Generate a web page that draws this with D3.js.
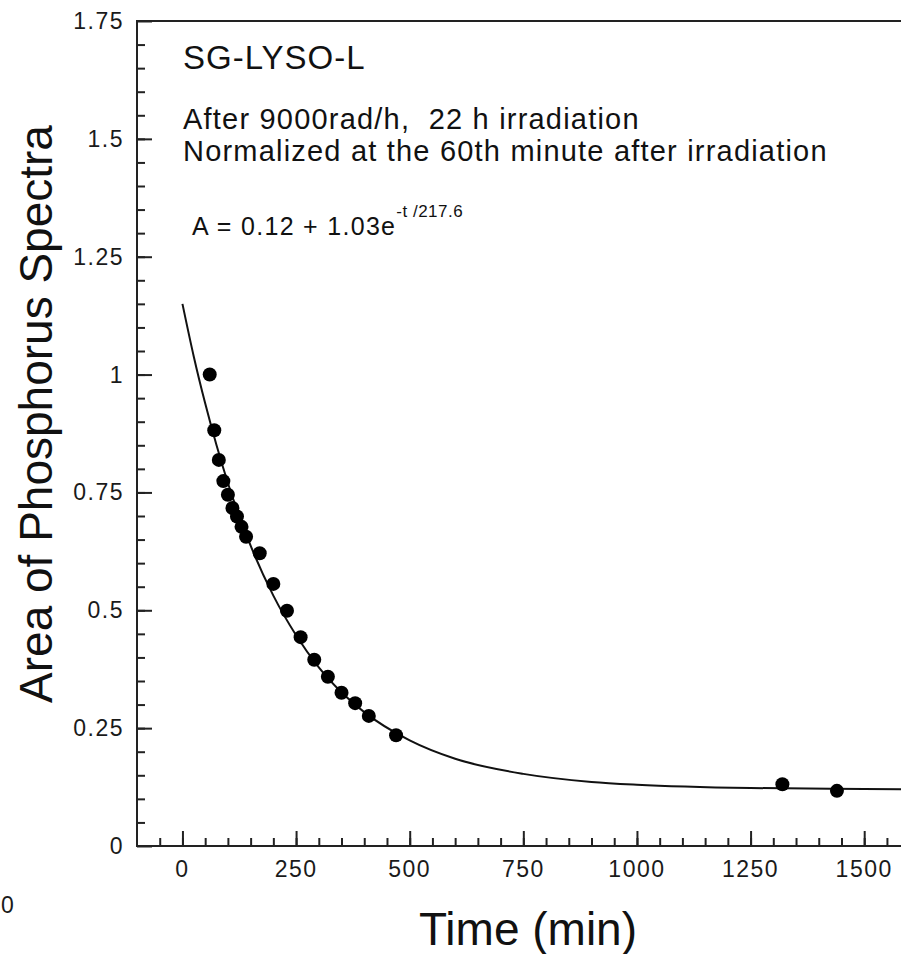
<!DOCTYPE html>
<html>
<head>
<meta charset="utf-8">
<script src="https://cdn.jsdelivr.net/npm/d3@7"></script>
<style>
  body { margin: 0; background: #fff; }
  svg { display: block; font-family: "Liberation Sans", Arial, Helvetica, sans-serif; }
</style>
</head>
<body>
<div id="chart"></div>
<script>
// measured points (time in min, normalized area)
const times = [60, 70, 80, 90, 100, 110, 120, 130, 140, 170, 200, 230, 260, 290, 320, 350, 380, 410, 470, 1320, 1440];
const areas = [1.0, 0.882, 0.819, 0.774, 0.745, 0.717, 0.699, 0.677, 0.656, 0.621, 0.556, 0.499, 0.443, 0.395, 0.359, 0.325, 0.303, 0.276, 0.235, 0.131, 0.117];

// fit curve
const fitTimes = [0, 25, 50, 75, 100, 150, 200, 250, 300, 350, 400, 500, 600, 750, 900, 1000, 1250, 1500, 1650];
const fitAreas = [1.150, 1.038, 0.939, 0.850, 0.770, 0.637, 0.531, 0.447, 0.379, 0.326, 0.284, 0.224, 0.185, 0.153, 0.136, 0.130, 0.123, 0.121, 0.120];

const xTicks = [0, 250, 500, 750, 1000, 1250, 1500];
const yTicks = [0, 0.25, 0.5, 0.75, 1, 1.25, 1.5, 1.75];
const yTickLabels = ['0', '0.25', '0.5', '0.75', '1', '1.25', '1.5', '1.75'];

function drawChart() {
  const width = 901;
  const height = 954;
  const margin = { top: 21, left: 137, bottom: 108 };

  const svg = d3.select('#chart')
    .append('svg')
    .attr('width', width)
    .attr('height', height);

  const x = d3.scaleLinear()
    .domain([-100, 1600])
    .range([margin.left, margin.left + 1700 * 0.4545]);

  const y = d3.scaleLinear()
    .domain([0, 1.75])
    .range([height - margin.bottom, margin.top]);

  svg.append('clipPath')
    .attr('id', 'plot')
    .append('rect')
    .attr('x', x(-100))
    .attr('y', y(1.75))
    .attr('width', x(1600) - x(-100))
    .attr('height', y(0) - y(1.75));

  // fit curve
  const line = d3.line()
    .x((d, i) => x(fitTimes[i]))
    .y(d => y(d))
    .curve(d3.curveMonotoneX);

  svg.append('path')
    .datum(fitAreas)
    .attr('clip-path', 'url(#plot)')
    .attr('fill', 'none')
    .attr('stroke', '#111')
    .attr('stroke-width', 2)
    .attr('d', line);

  // data points
  svg.append('g')
    .selectAll('circle')
    .data(areas)
    .join('circle')
    .attr('cx', (d, i) => x(times[i]))
    .attr('cy', d => y(d))
    .attr('r', 7)
    .attr('fill', '#000');

  // x axis, ticks point inward
  svg.append('g')
    .attr('transform', `translate(0,${y(0)})`)
    .call(d3.axisTop(x).tickValues(d3.range(-50, 1600, 50)).tickSize(8).tickFormat(''))
    .call(g => g.select('.domain').remove());
  svg.append('g')
    .attr('transform', `translate(0,${y(0)})`)
    .call(d3.axisTop(x).tickValues(xTicks).tickSize(15).tickFormat(''))
    .call(g => g.select('.domain').remove());

  svg.append('g')
    .selectAll('text')
    .data(xTicks)
    .join('text')
    .attr('x', d => x(d))
    .attr('y', y(0) + 31)
    .attr('text-anchor', 'middle')
    .style('font-size', '23px')
    .style('letter-spacing', '1.5px')
    .attr('fill', '#1a1a1a')
    .text(d => d);

  // y axis, ticks point inward
  svg.append('g')
    .attr('transform', `translate(${x(-100)},0)`)
    .call(d3.axisRight(y).tickValues(d3.range(0.05, 1.75, 0.05)).tickSize(8).tickFormat(''))
    .call(g => g.select('.domain').remove());
  svg.append('g')
    .attr('transform', `translate(${x(-100)},0)`)
    .call(d3.axisRight(y).tickValues(yTicks).tickSize(15).tickFormat(''))
    .call(g => g.select('.domain').remove());

  svg.selectAll('.tick line').attr('stroke', '#222').attr('stroke-width', 2);

  svg.append('g')
    .selectAll('text')
    .data(yTicks)
    .join('text')
    .attr('x', x(-100) - 13)
    .attr('y', d => y(d) + 8)
    .attr('text-anchor', 'end')
    .style('font-size', '23px')
    .style('letter-spacing', '1.5px')
    .attr('fill', '#1a1a1a')
    .text((d, i) => yTickLabels[i]);

  // frame: left, bottom and top lines
  svg.append('path')
    .attr('fill', 'none')
    .attr('stroke', '#222')
    .attr('stroke-width', 2)
    .attr('d', `M${width + 5},${y(1.75)}H${x(-100)}V${y(0)}H${width + 5}`);

  // axis titles
  svg.append('text')
    .attr('x', 528)
    .attr('y', 945)
    .attr('text-anchor', 'middle')
    .style('font-size', '46px')
    .attr('fill', '#111')
    .text('Time (min)');

  svg.append('text')
    .attr('transform', 'rotate(-90)')
    .attr('x', -414)
    .attr('y', 52)
    .attr('text-anchor', 'middle')
    .style('font-size', '46px')
    .attr('fill', '#111')
    .text('Area of Phosphorus Spectra');

  // stray label from the neighbouring panel
  svg.append('text')
    .attr('x', 1)
    .attr('y', 913)
    .style('font-size', '23px')
    .attr('fill', '#1a1a1a')
    .text('0');

  // annotations
  svg.append('text')
    .attr('x', 183)
    .attr('y', 69)
    .style('font-size', '33px')
    .style('letter-spacing', '1px')
    .attr('fill', '#111')
    .text('SG-LYSO-L');

  svg.append('text')
    .attr('x', 183)
    .attr('y', 129)
    .style('font-size', '29px')
    .style('letter-spacing', '1.2px')
    .style('white-space', 'pre')
    .attr('fill', '#111')
    .text('After 9000rad/h,  22 h irradiation');

  svg.append('text')
    .attr('x', 183)
    .attr('y', 161)
    .style('font-size', '29px')
    .style('letter-spacing', '1.2px')
    .attr('fill', '#111')
    .text('Normalized at the 60th minute after irradiation');

  const formula = svg.append('text')
    .attr('x', 192)
    .attr('y', 235)
    .style('font-size', '25px')
    .style('letter-spacing', '1.3px')
    .style('white-space', 'pre')
    .attr('fill', '#111');
  formula.append('tspan').text('A = 0.12 + 1.03e');
  formula.append('tspan')
    .attr('dy', -18)
    .style('font-size', '17px')
    .style('letter-spacing', '0.5px')
    .text('-t /217.6');
}

drawChart();
</script>
</body>
</html>
